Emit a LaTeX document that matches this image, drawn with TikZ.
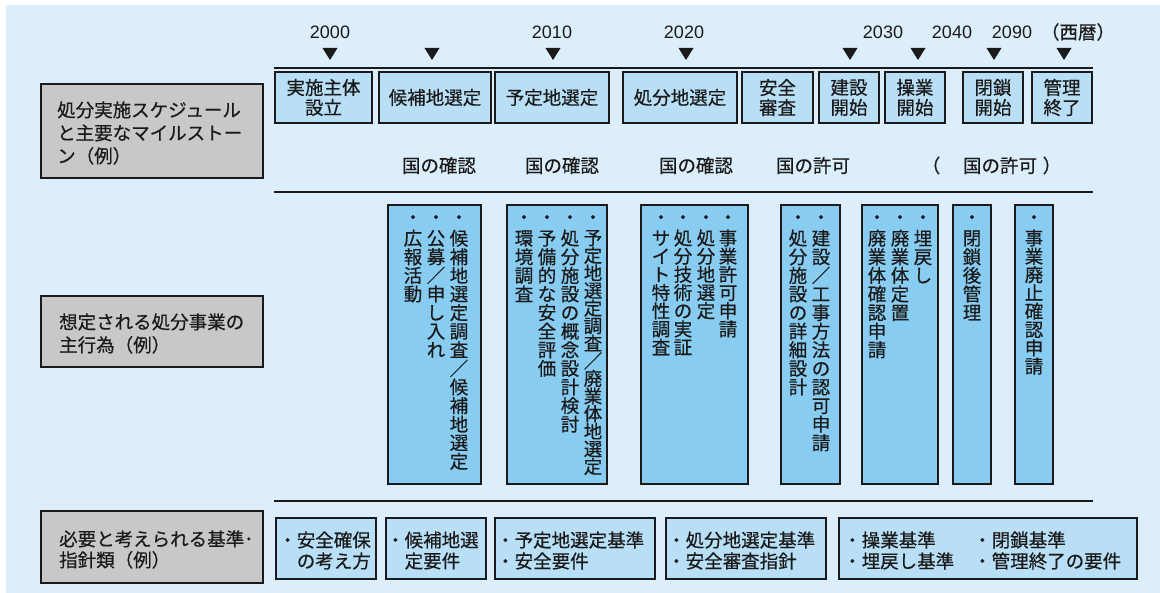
\documentclass[tikz,border=0pt]{standalone}
\usepackage{fontspec}
\setmainfont{Noto Sans CJK JP}[FakeBold=0.5]
\newfontfamily\latin{Liberation Sans}
\definecolor{bgc}{HTML}{DCEEFB}
\definecolor{topc}{HTML}{B8DFF6}
\definecolor{actc}{HTML}{88CCF1}
\definecolor{grayc}{HTML}{C8C8C8}
\definecolor{linec}{HTML}{1A1A1A}
\definecolor{txtc}{HTML}{1A1A1A}

\newcommand\rbox[7]{\node[#1, minimum width={#5-#3}, minimum height={#6-#4}] (#2) at ({(#3+#5)/2},{(#4+#6)/2}) {#7};}

\def\tatep{18.6}
\def\tateA#1{\ifx\relax#1\else\hbox to 18.5pt{\hss\vrule height \dimexpr\tatep pt/2+7pt\relax depth \dimexpr\tatep pt/2-7pt\relax width 0pt\relax#1\hss}\expandafter\tateA\fi}
\newcommand\tate[2][18.6]{\vbox{\offinterlineskip\def\tatep{#1}\hbox to 18.5pt{\hss\vrule height 16.3pt depth 4.7pt width 0pt\relax ・\hss}\tateA#2\relax}}

\begin{document}
\begin{tikzpicture}[x=1pt,y=-1pt,
  topbox/.style={draw=linec, line width=1.6pt, fill=topc, inner sep=0pt, align=center, text=txtc, font=\fontsize{18.5}{20}\selectfont},
  actbox/.style={draw=linec, line width=1.7pt, fill=actc, inner sep=0pt},
  graybox/.style={draw=linec, line width=1.8pt, fill=grayc, inner sep=0pt},
  lbltxt/.style={anchor=west, align=left, inner sep=0pt, text=txtc, font=\fontsize{18.5}{23}\selectfont},
  stdtxt/.style={anchor=west, align=left, inner sep=0pt, text=txtc, font=\fontsize{18.5}{21}\selectfont},
  colt/.style={anchor=north, inner sep=0pt, text=txtc, font=\fontsize{18.5}{18.5}\selectfont},
  note/.style={inner sep=0pt, text=txtc, font=\fontsize{18.5}{20}\selectfont},
  yr/.style={inner sep=0pt, text=txtc, font=\latin\fontsize{18}{20}\selectfont},
  sep/.style={draw=linec, line width=1.6pt}]
\useasboundingbox (0,0) rectangle (1160,593);
\fill[white] (0,0) rectangle (1160,593);
\fill[bgc] (6,5) rectangle (1160,593);

% years
\node[yr] (y2000) at (330,32) {2000};
\node[yr] (y2010) at (552,32) {2010};
\node[yr] (y2020) at (684,32) {2020};
\node[yr] (y2030) at (883,32) {2030};
\node[yr] (y2040) at (952,32) {2040};
\node[yr] (y2090) at (1012,32) {2090};
\node[note] (seireki) at (1078,32) {（西暦）};
\foreach \x in {330,432,553,686,850,918,994,1064}
  \fill[linec] (\x-7.5,48) -- (\x+7.5,48) -- (\x,60) -- cycle;

% separator lines
\coordinate (l1a) at (274,68);  \coordinate (l1b) at (1093,68);
\coordinate (l2a) at (274,192); \coordinate (l2b) at (1093,192);
\coordinate (l3a) at (274,501); \coordinate (l3b) at (1093,501);
\draw[sep] (l1a) -- (l1b);
\draw[sep] (l2a) -- (l2b);
\draw[sep] (l3a) -- (l3b);

% left labels
\rbox{graybox}{g1}{41}{84}{263}{178}{}
\node[lbltxt] (g1t) at (57,133) {処分実施スケジュール\\と主要なマイルストー\\ン（例）};
\rbox{graybox}{g2}{41}{296}{263}{367}{}
\node[lbltxt] (g2t) at (59,333.5) {想定される処分事業の\\主行為（例）};
\rbox{graybox}{g3}{41}{511}{263}{583}{}
\node[stdtxt] (g3t) at (59,549.5) {必要と考えられる基準･\\指針類（例）};

% milestones
\rbox{topbox}{m1}{275}{72}{372}{123}{実施主体\\設立}
\rbox{topbox}{m2}{379}{72}{491}{123}{候補地選定}
\rbox{topbox}{m3}{495}{72}{609}{123}{予定地選定}
\rbox{topbox}{m4}{623}{72}{737}{123}{処分地選定}
\rbox{topbox}{m5}{742}{72}{813}{123}{安全\\審査}
\rbox{topbox}{m6}{819}{72}{879}{123}{建設\\開始}
\rbox{topbox}{m7}{885}{72}{945}{123}{操業\\開始}
\rbox{topbox}{m8}{963}{72}{1023}{123}{閉鎖\\開始}
\rbox{topbox}{m9}{1032}{72}{1092}{123}{管理\\終了}

\node[note] (k1) at (439,165.5) {国の確認};
\node[note] (k2) at (562,165.5) {国の確認};
\node[note] (k3) at (696,165.5) {国の確認};
\node[note] (k4) at (813,165.5) {国の許可};
\node[note] (k5a) at (931,165.5) {（};
\node[note] (k5) at (1000,165.5) {国の許可};
\node[note] (k5b) at (1052,165.5) {）};

% main activities
\rbox{actbox}{a}{388}{205}{481}{484}{}
\node[colt] (a1) at (459,207.7) {\tate{候補地選定調査／候補地選定}};
\node[colt] (a2) at (436,207.7) {\tate{公募／申し入れ}};
\node[colt] (a3) at (413,207.7) {\tate{広報活動}};

\rbox{actbox}{b}{507}{205}{607}{484}{}
\node[colt] (b1) at (593,207.7) {\tate[17.6]{予定地選定調査／廃業体地選定}};
\node[colt] (b2) at (570,207.7) {\tate{処分施設の概念設計検討}};
\node[colt] (b3) at (547,207.7) {\tate{予備的な安全評価}};
\node[colt] (b4) at (524,207.7) {\tate{環境調査}};

\rbox{actbox}{c}{641}{205}{748}{484}{}
\node[colt] (c1) at (728,207.7) {\tate[18.2]{事業許可申請}};
\node[colt] (c2) at (706,207.7) {\tate[18.2]{処分地選定}};
\node[colt] (c3) at (683,207.7) {\tate[18.2]{処分技術の実証}};
\node[colt] (c4) at (661,207.7) {\tate[18.2]{サイト特性調査}};

\rbox{actbox}{d}{781}{205}{840}{484}{}
\node[colt] (d1) at (821,207.7) {\tate{建設／工事方法の認可申請}};
\node[colt] (d2) at (798,207.7) {\tate{処分施設の詳細設計}};

\rbox{actbox}{e}{862}{205}{938}{484}{}
\node[colt] (e1) at (923,207.7) {\tate{埋戻し}};
\node[colt] (e2) at (900,207.7) {\tate{廃業体定置}};
\node[colt] (e3) at (877,207.7) {\tate{廃業体確認申請}};

\rbox{actbox}{f}{953}{205}{991}{484}{}
\node[colt] (f1) at (972,207.7) {\tate{閉鎖後管理}};

\rbox{actbox}{g}{1015}{205}{1053}{484}{}
\node[colt] (g1c) at (1034,207.7) {\tate[18.3]{事業廃止確認申請}};

% standards
\rbox{topbox}{s1}{276}{518}{376}{579}{}
\node[stdtxt, anchor=east, align=right] (s1t) at (371,550.5) {・安全確保\\の考え方};
\rbox{topbox}{s2}{386}{518}{486}{579}{}
\node[stdtxt] (s2t) at (386,550.5) {・候補地選\\\phantom{・}定要件};
\rbox{topbox}{s3}{495}{518}{655}{579}{}
\node[stdtxt] (s3t) at (496,550.5) {・予定地選定基準\\・安全要件};
\rbox{topbox}{s4}{666}{518}{826}{579}{}
\node[stdtxt] (s4t) at (667,550.5) {・処分地選定基準\\・安全審査指針};
\rbox{topbox}{s5}{839}{518}{1137}{579}{}
\node[stdtxt] (s5t) at (843,550.5) {・操業基準\\・埋戻し基準};
\node[stdtxt] (s5u) at (973,550.5) {・閉鎖基準\\・管理終了の要件};
\end{tikzpicture}
\end{document}
